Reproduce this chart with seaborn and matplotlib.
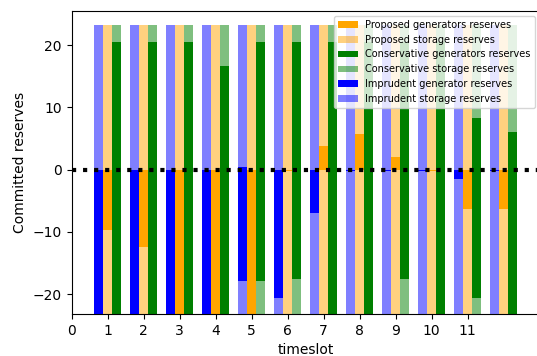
import matplotlib
matplotlib.use("Agg")
import matplotlib.pyplot as plt
import pandas as pd
import seaborn as sns

timeslots = [1, 2, 3, 4, 5, 6, 7, 8, 9, 10, 11, 12]
xtick_labels = ["0", "1", "2", "3", "4", "5", "6", "7", "8", "9", "10", "11"]

# upward reserves (positive side)
prop_gen_up = [0, 0, 0, 0, 0, 0, 3.8, 5.7, 2.0, 0, 0, 0]
prop_sto_up = [23.2, 23.2, 23.2, 23.2, 23.2, 23.2, 19.4, 17.5, 21.2, 23.2, 23.2, 23.2]
cons_gen_up = [20.5, 20.5, 20.5, 16.6, 20.5, 20.5, 20.5, 20.5, 20.5, 20.5, 8.3, 6.0]
cons_sto_up = [2.7, 2.7, 2.7, 6.6, 2.7, 2.7, 2.7, 2.7, 2.7, 2.7, 14.9, 17.2]
impr_gen_up = [0, 0, 0, 0, 0.4, 0, 0, 0, 0, 0, 0, 0]
impr_sto_up = [23.2, 23.2, 23.2, 23.2, 22.8, 23.2, 23.2, 23.2, 23.2, 23.2, 23.2, 23.2]

# downward reserves (negative side, magnitudes)
prop_gen_down = [9.7, 12.5, 23.2, 23.2, 23.2, 0.15, 0, 0, 0, 0.15, 6.3, 6.3]
prop_sto_down = [13.5, 10.7, 0, 0, 0, 23.05, 23.2, 23.2, 23.2, 23.05, 16.9, 16.9]
cons_gen_down = [23.2, 23.2, 23.2, 23.2, 17.9, 17.5, 23.2, 23.2, 17.5, 23.2, 20.6, 23.2]
cons_sto_down = [0, 0, 0, 0, 5.3, 5.7, 0, 0, 5.7, 0, 2.6, 0]
impr_gen_down = [23.2, 23.2, 23.2, 23.2, 17.9, 20.6, 7.0, 0.15, 0.15, 0.15, 1.5, 0.15]
impr_sto_down = [0, 0, 0, 0, 5.3, 2.6, 16.2, 23.05, 23.05, 23.05, 21.7, 23.05]

fig = plt.figure(figsize=(5.37, 3.56), dpi=100)
# the axes run slightly past the right edge of the image (cropped figure)
ax = fig.add_axes([71.5 / 537, 42 / 356, (539.5 - 71.5) / 537, (314 - 11) / 356])

WIDTH = 0.275


def draw(offset, values, bottoms, color, alpha, label=None):
    df = pd.DataFrame({"x": [t + offset for t in timeslots], "y": values})
    kws = dict(bottom=bottoms, alpha=alpha, linewidth=0, edgecolor="none")
    if label is not None:
        kws["label"] = label
    sns.barplot(data=df, x="x", y="y", native_scale=True, width=WIDTH,
                color=color, saturation=1, errorbar=None, ax=ax, **kws)


def strategy(offset, gen_up, sto_up, gen_dn, sto_dn, color, name_gen, name_sto):
    draw(offset, gen_up, [0] * len(gen_up), color, 1.0, name_gen)
    draw(offset, sto_up, gen_up, color, 0.5, name_sto)
    draw(offset, [-v for v in gen_dn], [0] * len(gen_dn), color, 1.0)
    draw(offset, [-v for v in sto_dn], [-v for v in gen_dn], color, 0.5)


strategy(0.0, prop_gen_up, prop_sto_up, prop_gen_down, prop_sto_down, "orange",
         "Proposed generators reserves", "Proposed storage reserves")
strategy(0.25, cons_gen_up, cons_sto_up, cons_gen_down, cons_sto_down, "green",
         "Conservative generators reserves", "Conservative storage reserves")
strategy(-0.25, impr_gen_up, impr_sto_up, impr_gen_down, impr_sto_down, "blue",
         "Imprudent generator reserves", "Imprudent storage reserves")

ax.axhline(0, color="k", linestyle=":", linewidth=3)

ax.set_xlim(0, 13)
ax.set_ylim(-23.2, 25.5)
ax.set_xticks(range(len(xtick_labels)))
ax.set_xticklabels(xtick_labels)
ax.set_xlabel("timeslot")
ax.set_ylabel("Committed reserves")
ax.legend(loc="upper right", fontsize=7)

fig.savefig("out.png", dpi=100)
